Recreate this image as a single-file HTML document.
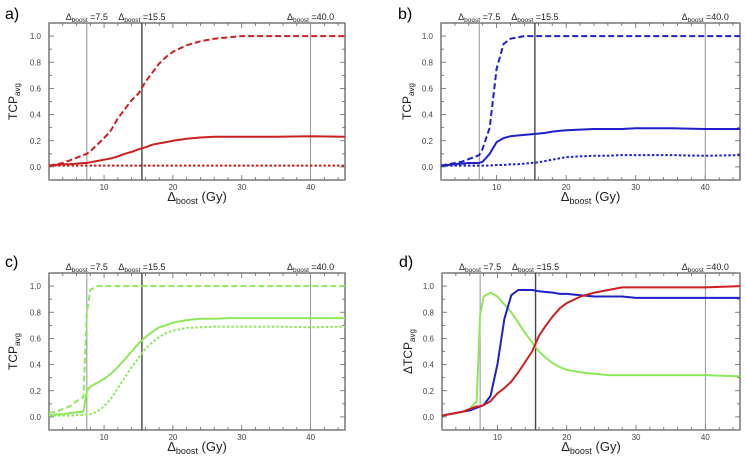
<!DOCTYPE html>
<html><head><meta charset="utf-8">
<style>
body{margin:0;background:#fff;}
svg{display:block;font-family:"Liberation Sans",sans-serif;}
</style></head>
<body>
<svg id="chart" width="746" height="466" viewBox="0 0 746 466" xmlns="http://www.w3.org/2000/svg"></svg>
<script>
const xs = [2,3,4,5,6,7,7.5,8,9,10,11,12,13,14,15,16,17,18,19,20,22,24,26,28,30,35,40,45];
const aDashed = [0.01,0.02,0.03,0.05,0.07,0.09,0.10,0.12,0.17,0.22,0.28,0.37,0.44,0.51,0.56,0.65,0.72,0.79,0.84,0.88,0.93,0.96,0.98,0.99,1.0,1.0,1.0,1.0];
const aSolid = [0.01,0.015,0.02,0.02,0.025,0.03,0.03,0.035,0.045,0.055,0.065,0.08,0.10,0.115,0.135,0.15,0.17,0.18,0.19,0.20,0.215,0.225,0.23,0.23,0.23,0.23,0.235,0.23];
const aDotted = [0.01,0.01,0.01,0.01,0.01,0.01,0.01,0.01,0.01,0.01,0.01,0.01,0.01,0.01,0.01,0.01,0.01,0.01,0.01,0.01,0.01,0.01,0.01,0.01,0.01,0.01,0.01,0.01];
const bDashed = [0.01,0.02,0.03,0.04,0.06,0.08,0.09,0.14,0.30,0.75,0.94,0.98,0.99,1,1,1,1,1,1,1,1,1,1,1,1,1,1,1];
const bSolid = [0.01,0.015,0.02,0.025,0.03,0.03,0.03,0.04,0.10,0.19,0.22,0.235,0.24,0.245,0.25,0.255,0.26,0.27,0.275,0.28,0.285,0.29,0.29,0.29,0.295,0.295,0.29,0.29];
const bDotted = [0.01,0.01,0.01,0.01,0.01,0.01,0.01,0.01,0.01,0.015,0.015,0.02,0.02,0.025,0.03,0.035,0.045,0.055,0.065,0.075,0.08,0.085,0.085,0.09,0.09,0.09,0.085,0.09];
const cDashed = [0.03,0.04,0.06,0.08,0.12,0.15,0.80,0.97,1,1,1,1,1,1,1,1,1,1,1,1,1,1,1,1,1,1,1,1];
const cSolid = [0.01,0.02,0.02,0.03,0.035,0.04,0.20,0.23,0.26,0.29,0.33,0.38,0.44,0.50,0.56,0.61,0.65,0.685,0.70,0.72,0.74,0.75,0.75,0.755,0.755,0.755,0.755,0.755];
const cDotted = [0.01,0.01,0.01,0.01,0.015,0.015,0.02,0.02,0.04,0.08,0.14,0.22,0.30,0.38,0.45,0.52,0.57,0.61,0.64,0.66,0.68,0.685,0.69,0.69,0.69,0.69,0.685,0.69];
const dGreen = [0.01,0.02,0.03,0.04,0.06,0.12,0.78,0.92,0.95,0.92,0.86,0.80,0.72,0.64,0.57,0.50,0.45,0.41,0.38,0.36,0.34,0.33,0.32,0.32,0.32,0.32,0.32,0.31];
const dBlue = [0.01,0.02,0.03,0.04,0.05,0.07,0.08,0.09,0.16,0.40,0.75,0.93,0.97,0.97,0.97,0.96,0.955,0.95,0.94,0.94,0.93,0.92,0.92,0.92,0.91,0.91,0.91,0.91];
const dRed = [0.01,0.02,0.03,0.04,0.06,0.08,0.08,0.09,0.12,0.18,0.22,0.27,0.34,0.42,0.50,0.62,0.70,0.77,0.83,0.87,0.92,0.95,0.97,0.99,0.99,0.99,0.99,1.0];
const markers = [7.5, 15.5, 40];
const markerLabels = ["=7.5", "=15.5", "=40.0"];
const xTicks = [10,20,30,40];
const yTicks = [0,0.2,0.4,0.6,0.8,1.0];
const yTickLabels = ["0.0","0.2","0.4","0.6","0.8","1.0"];

const NS = "http://www.w3.org/2000/svg";
const svg = document.getElementById('chart');
function mk(tag, attrs, parent){ const e=document.createElementNS(NS,tag); for(const k in attrs) e.setAttribute(k,attrs[k]); (parent||svg).appendChild(e); return e; }

const RED="#cc2020", BLUE="#1f1fcc", GREEN="#8fe85a";
const panels = [
 {id:'a', label:'a)', lx:5, L:49, R:345, T:23, B:180, yt:'TCP', ylx:17, series:[[aDashed,RED,'dashed'],[aSolid,RED,'solid'],[aDotted,RED,'dotted']]},
 {id:'b', label:'b)', lx:398, L:441, R:740, T:23, B:180, yt:'TCP', ylx:411, series:[[bDashed,BLUE,'dashed'],[bSolid,BLUE,'solid'],[bDotted,BLUE,'dotted']]},
 {id:'c', label:'c)', lx:5, L:49, R:345, T:273, B:430, yt:'TCP', ylx:17, series:[[cDashed,GREEN,'dashed'],[cSolid,GREEN,'solid'],[cDotted,GREEN,'dotted']]},
 {id:'d', label:'d)', lx:399, L:442, R:740, T:273, B:430, yt:'\u0394TCP', ylx:412, series:[[dGreen,GREEN,'solid'],[dBlue,BLUE,'solid'],[dRed,RED,'solid']]}
];

panels.forEach(p=>{
  const g = mk('g',{});
  
  
  const sx = v => p.L + (v-2)/(45-2)*(p.R-p.L);
  const sy = v => p.B - (v+0.1)/1.2*(p.B-p.T);
  const pl = mk('text',{x:p.lx, y:p.T-4+(p.id==='c'||p.id==='d'?-2:0), 'font-size':16, fill:'#000'},g);
  pl.textContent = p.label;
  
  
  const fr = mk('rect',{x:p.L,y:p.T,width:p.R-p.L,height:p.B-p.T,fill:'none',stroke:'#555','stroke-width':1.2},g);
  
  
  for(let v=2; v<=45; v+=2){
    const x=sx(v); const len = (v%10===0)?5:3;
    mk('line',{x1:x,x2:x,y1:p.B,y2:p.B-len,stroke:'#666','stroke-width':0.8},g);
    mk('line',{x1:x,x2:x,y1:p.T,y2:p.T+len,stroke:'#666','stroke-width':0.8},g);
  }
  for(let i=-1;i<=11;i++){
    const v=i/10, y=sy(v), len=(i%2===0)?5:3;
    mk('line',{x1:p.L,x2:p.L+len,y1:y,y2:y,stroke:'#666','stroke-width':0.8},g);
    mk('line',{x1:p.R,x2:p.R-len,y1:y,y2:y,stroke:'#666','stroke-width':0.8},g);
  }
  xTicks.forEach(v=>{
    const t=mk('text',{x:sx(v),y:p.B+10,'font-size':8,'text-anchor':'middle',fill:'#444'},g);
    t.textContent=v;
    
    
  });
  yTicks.forEach((v,i)=>{
    const t=mk('text',{x:p.L-8,y:sy(v)+3,'font-size':8,'text-anchor':'end',fill:'#444'},g);
    t.textContent=yTickLabels[i];
    
    
  });
  markers.forEach((m,i)=>{
    const x=sx(m);
    const ln=mk('line',{x1:x,x2:x,y1:p.T,y2:p.B,stroke:i===1?'#444':'#888','stroke-width':i===1?1.4:0.9},g);
    
    
    const t=mk('text',{x:x,y:p.T-3,'font-size':9,'text-anchor':'middle',fill:'#222'},g);
    t.innerHTML='\u0394<tspan font-size="6.5" dy="2">boost</tspan><tspan dy="-2"> '+markerLabels[i]+'</tspan>';
    
    
  });
  p.series.forEach(([vals,col,style])=>{
    const d = xs.map((x,i)=>(i?'L':'M')+sx(x).toFixed(1)+','+sy(vals[i]).toFixed(1)).join(' ');
    const attrs={d:d,fill:'none',stroke:col,'stroke-width':2,'stroke-linejoin':'round'};
    if(style==='dashed') attrs['stroke-dasharray']='6,3';
    if(style==='dotted') attrs['stroke-dasharray']='2.5,2';
    const path=mk('path',attrs,g);
    
    
  });
  const xt=mk('text',{x:(p.L+p.R)/2,y:p.B+21,'font-size':13,'text-anchor':'middle',fill:'#222'},g);
  xt.innerHTML='\u0394<tspan font-size="9" dy="3">boost</tspan><tspan dy="-3"> (Gy)</tspan>';
  
  
  const cy=(p.T+p.B)/2;
  const yt=mk('text',{x:p.ylx,y:cy,'font-size':12,'text-anchor':'middle',fill:'#222',transform:'rotate(-90 '+p.ylx+' '+cy+')'},g);
  yt.innerHTML=p.yt+'<tspan font-size="8" dy="3">avg</tspan>';
  
  
});
</script>
</body></html>
